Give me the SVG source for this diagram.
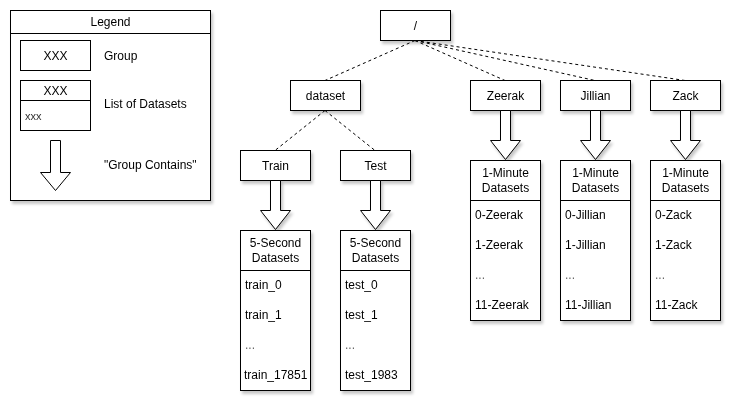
<svg xmlns="http://www.w3.org/2000/svg" width="737" height="407" viewBox="0 0 737 407">
<defs>
<filter id="sh" x="-20%" y="-20%" width="150%" height="150%">
<feDropShadow dx="2" dy="3" stdDeviation="1.5" flood-color="#000" flood-opacity="0.22"/>
</filter>
</defs>
<style>
.b{fill:#fff;stroke:#000;stroke-width:1}
.t{font-family:"Liberation Sans",Arial,sans-serif;font-size:12px;fill:#000}
.c{text-anchor:middle}
.s{font-size:11px;fill:#333}
.e{fill:#666}
.d{fill:none;stroke:#000;stroke-width:1;stroke-dasharray:3 3}
.ar{fill:#fff;stroke:#000;stroke-width:1}
</style>
<rect width="737" height="407" fill="#fff"/>

<g id="legend" filter="url(#sh)">
<rect class="b" x="10.5" y="10.5" width="200" height="190"/>
<line x1="10.5" y1="33.5" x2="210.5" y2="33.5" stroke="#000"/>
<text class="t c" x="110.5" y="26">Legend</text>
<rect class="b" x="20.5" y="40.5" width="70" height="30"/>
<text class="t c" x="55.5" y="60">XXX</text>
<text class="t" x="104" y="60">Group</text>
<rect class="b" x="20.5" y="80.5" width="70" height="50"/>
<line x1="20.5" y1="100.5" x2="90.5" y2="100.5" stroke="#000"/>
<text class="t c" x="55.5" y="95">XXX</text>
<text class="t s" x="25" y="120">xxx</text>
<text class="t" x="104" y="108">List of Datasets</text>
<path class="ar" d="M50.5 140.5 H60.5 V172.5 H70.5 L55.5 190.5 L40.5 172.5 H50.5 Z"/>
<text class="t" x="104" y="169">"Group Contains"</text>
</g>

<g id="connectors">
<line class="d" x1="415" y1="40.5" x2="325" y2="80.5"/>
<line class="d" x1="415" y1="40.5" x2="505" y2="80.5"/>
<line class="d" x1="415" y1="40.5" x2="595" y2="80.5"/>
<line class="d" x1="415" y1="40.5" x2="685" y2="80.5"/>
<line class="d" x1="325" y1="110.5" x2="275" y2="150.5"/>
<line class="d" x1="325" y1="110.5" x2="375" y2="150.5"/>
</g>

<g id="root" filter="url(#sh)">
<rect class="b" x="380.5" y="10.5" width="70" height="30"/>
<text class="t c" x="415.5" y="30">/</text>
</g>
<g id="dataset" filter="url(#sh)">
<rect class="b" x="290.5" y="80.5" width="70" height="30"/>
<text class="t c" x="325.5" y="100">dataset</text>
</g>
<g id="train" filter="url(#sh)">
<rect class="b" x="240.5" y="150.5" width="70" height="30"/>
<text class="t c" x="275.5" y="170">Train</text>
</g>
<g id="test" filter="url(#sh)">
<rect class="b" x="340.5" y="150.5" width="70" height="30"/>
<text class="t c" x="375.5" y="170">Test</text>
</g>
<g id="zeerak" filter="url(#sh)">
<rect class="b" x="470.5" y="80.5" width="70" height="30"/>
<text class="t c" x="505.5" y="100">Zeerak</text>
</g>
<g id="jillian" filter="url(#sh)">
<rect class="b" x="560.5" y="80.5" width="70" height="30"/>
<text class="t c" x="595.5" y="100">Jillian</text>
</g>
<g id="zack" filter="url(#sh)">
<rect class="b" x="650.5" y="80.5" width="70" height="30"/>
<text class="t c" x="685.5" y="100">Zack</text>
</g>

<g id="contains-arrows" filter="url(#sh)">
<path class="ar" d="M270.5 180.5 H280.5 V210.5 H290.5 L275.5 229.5 L260.5 210.5 H270.5 Z"/>
<path class="ar" d="M370.5 180.5 H380.5 V210.5 H390.5 L375.5 229.5 L360.5 210.5 H370.5 Z"/>
<path class="ar" d="M500.5 110.5 H510.5 V140.5 H520.5 L505.5 159.5 L490.5 140.5 H500.5 Z"/>
<path class="ar" d="M590.5 110.5 H600.5 V140.5 H610.5 L595.5 159.5 L580.5 140.5 H590.5 Z"/>
<path class="ar" d="M680.5 110.5 H690.5 V140.5 H700.5 L685.5 159.5 L670.5 140.5 H680.5 Z"/>
</g>

<g id="train-list" filter="url(#sh)">
<rect class="b" x="240.5" y="230.5" width="70" height="160"/>
<line x1="240.5" y1="270.5" x2="310.5" y2="270.5" stroke="#000"/>
<text class="t c" x="275.5" y="247">5-Second</text>
<text class="t c" x="275.5" y="262">Datasets</text>
<text class="t" x="245" y="289">train_0</text>
<text class="t" x="245" y="319">train_1</text>
<text class="t e" x="245" y="349">...</text>
<text class="t" x="244" y="379">train_17851</text>
</g>
<g id="test-list" filter="url(#sh)">
<rect class="b" x="340.5" y="230.5" width="70" height="160"/>
<line x1="340.5" y1="270.5" x2="410.5" y2="270.5" stroke="#000"/>
<text class="t c" x="375.5" y="247">5-Second</text>
<text class="t c" x="375.5" y="262">Datasets</text>
<text class="t" x="345" y="289">test_0</text>
<text class="t" x="345" y="319">test_1</text>
<text class="t e" x="345" y="349">...</text>
<text class="t" x="345" y="379">test_1983</text>
</g>
<g id="zeerak-list" filter="url(#sh)">
<rect class="b" x="470.5" y="160.5" width="70" height="160"/>
<line x1="470.5" y1="200.5" x2="540.5" y2="200.5" stroke="#000"/>
<text class="t c" x="505.5" y="177">1-Minute</text>
<text class="t c" x="505.5" y="192">Datasets</text>
<text class="t" x="475" y="219">0-Zeerak</text>
<text class="t" x="475" y="249">1-Zeerak</text>
<text class="t e" x="475" y="279">...</text>
<text class="t" x="475" y="309">11-Zeerak</text>
</g>
<g id="jillian-list" filter="url(#sh)">
<rect class="b" x="560.5" y="160.5" width="70" height="160"/>
<line x1="560.5" y1="200.5" x2="630.5" y2="200.5" stroke="#000"/>
<text class="t c" x="595.5" y="177">1-Minute</text>
<text class="t c" x="595.5" y="192">Datasets</text>
<text class="t" x="565" y="219">0-Jillian</text>
<text class="t" x="565" y="249">1-Jillian</text>
<text class="t e" x="565" y="279">...</text>
<text class="t" x="565" y="309">11-Jillian</text>
</g>
<g id="zack-list" filter="url(#sh)">
<rect class="b" x="650.5" y="160.5" width="70" height="160"/>
<line x1="650.5" y1="200.5" x2="720.5" y2="200.5" stroke="#000"/>
<text class="t c" x="685.5" y="177">1-Minute</text>
<text class="t c" x="685.5" y="192">Datasets</text>
<text class="t" x="655" y="219">0-Zack</text>
<text class="t" x="655" y="249">1-Zack</text>
<text class="t e" x="655" y="279">...</text>
<text class="t" x="655" y="309">11-Zack</text>
</g>
</svg>
